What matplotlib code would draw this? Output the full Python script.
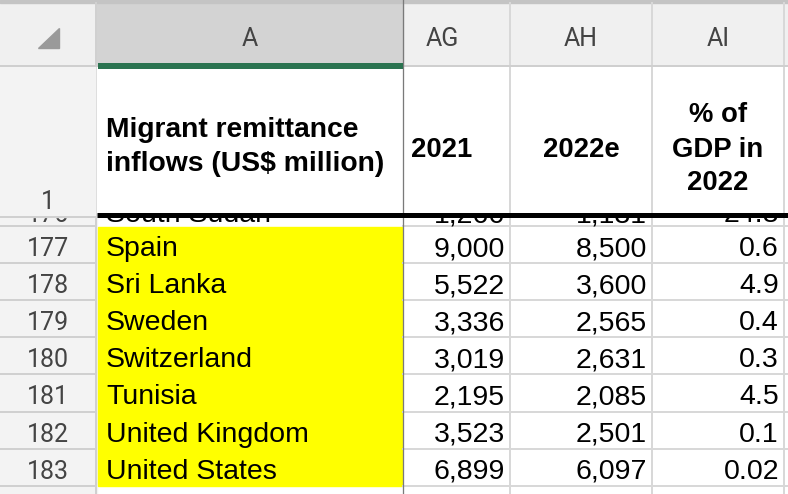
import matplotlib
matplotlib.use('Agg')
from matplotlib import pyplot as plt
from matplotlib.patches import Rectangle, Polygon

# spreadsheet content
col_letters = ['A', 'AG', 'AH', 'AI']
header_name = ['Migrant remittance', 'inflows (US$ million)']
header_2021 = '2021'
header_2022 = '2022e'
header_gdp = ['% of', 'GDP in', '2022']

cut_row = 176
cut_country = 'South Sudan'
cut_values = ['1,266', '1,131', '24.8']

row_nums = [177, 178, 179, 180, 181, 182, 183]
countries = ['Spain', 'Sri Lanka', 'Sweden', 'Switzerland', 'Tunisia',
             'United Kingdom', 'United States']
inflow_2021 = [9000, 5522, 3336, 3019, 2195, 3523, 6899]
inflow_2022e = [8500, 3600, 2565, 2631, 2085, 2501, 6097]
gdp_share_2022 = [0.6, 4.9, 0.4, 0.3, 4.5, 0.1, 0.02]

# layout in pixels
W, H = 788, 494
col_edges = [0, 97, 403, 510, 652, 784]
letter_x = [250, 442, 581, 718]
head_bottom = 66
row1_bottom = 213
row_top0 = 226
row_h = 37.1
grid = '#d8d8d8'
cell_font = 'Liberation Sans'
head_font = 'Roboto'

fig = plt.figure(figsize=(W / 100, H / 100), dpi=100)
ax = fig.add_axes([0, 0, 1, 1])
ax.set_xlim(0, W)
ax.set_ylim(H, 0)
ax.axis('off')


def px(n):
    return n * 0.72


# backgrounds
ax.add_patch(Rectangle((0, 0), W, head_bottom, color='#f0f0f0', zorder=0))
ax.add_patch(Rectangle((col_edges[1], 0), col_edges[2] - col_edges[1], head_bottom,
                       color='#d3d3d3', zorder=0))
ax.add_patch(Rectangle((0, head_bottom), col_edges[1], H - head_bottom, color='#f3f3f3', zorder=0))
ax.add_patch(Rectangle((0, 0), W, 3, color='#c4c4c4', zorder=1))
ax.add_patch(Polygon([[59, 28], [59, 48], [38, 48]], color='#9a9a9a', zorder=4))

# yellow country block
n = len(row_nums)
ax.add_patch(Rectangle((col_edges[1] + 1, row_top0 + 1), col_edges[2] - col_edges[1] - 2,
                       n * row_h - 1, color='#ffff00', zorder=1))

# grid lines
for x in col_edges[3:]:
    ax.plot([x, x], [3, H], color=grid, lw=px(2), zorder=1)
ax.plot([col_edges[1] - 1, col_edges[1] - 1], [3, H], color='#d0d0d0', lw=px(2), zorder=1)
for i in range(n + 1):
    y = row_top0 + i * row_h
    ax.plot([0, col_edges[1] - 1], [y, y], color='#d0d0d0', lw=px(2), zorder=1)
    ax.plot([col_edges[2], W], [y, y], color=grid, lw=px(2), zorder=1)

# cut-off row scrolled under the frozen header row
cut_base = 222
ax.text(48, cut_base, str(cut_row), family=head_font, fontsize=18, color='#444444',
        ha='center', va='baseline', zorder=2)
ax.text(106, cut_base, cut_country, family=cell_font, fontsize=20.5, ha='left',
        va='baseline', zorder=2)
for j, s in enumerate(cut_values):
    ax.text(col_edges[j + 3] - 5, cut_base, s, family=cell_font, fontsize=20.5, ha='right',
            va='baseline', zorder=2)

# frozen header row masks the cut row
ax.add_patch(Rectangle((0, head_bottom), col_edges[1] - 2, row1_bottom + 4 - head_bottom,
                       color='#f3f3f3', zorder=3))
ax.add_patch(Rectangle((col_edges[1], head_bottom), W - col_edges[1], row1_bottom - head_bottom,
                       color='white', zorder=3))
for x in col_edges[3:]:
    ax.plot([x, x], [head_bottom, row1_bottom], color=grid, lw=px(2), zorder=3)
ax.plot([0, col_edges[1] - 2], [row1_bottom + 4, row1_bottom + 4], color='#d0d0d0',
        lw=px(2), zorder=3)
ax.plot([0, W], [head_bottom, head_bottom], color='#cfcfcf', lw=px(2), zorder=3)
ax.plot([col_edges[2], col_edges[2]], [0, H], color='#7a7a7a', lw=px(1.3), zorder=4)
ax.plot([col_edges[1] + 1, col_edges[2]], [head_bottom, head_bottom], color='#2b7350',
        lw=px(6), solid_capstyle='butt', zorder=4)
ax.plot([col_edges[1], W], [row1_bottom + 2, row1_bottom + 2], color='black', lw=px(5),
        solid_capstyle='butt', zorder=4)

# column letters and row 1 number
for letter, x in zip(col_letters, letter_x):
    ax.text(x, 46, letter, family=head_font, fontsize=18, color='#444444', ha='center',
            va='baseline', zorder=5)
ax.text(48, 209, '1', family=head_font, fontsize=18, color='#444444', ha='center',
        va='baseline', zorder=5)

# header row texts
bold = dict(family=cell_font, fontweight='bold', color='black', va='baseline', zorder=5)
for line, base in zip(header_name, [137, 171]):
    ax.text(106, base, line, ha='left', fontsize=20.3, **bold)
ax.text(411, 157, header_2021, ha='left', fontsize=19.8, **bold)
ax.text((col_edges[3] + col_edges[4]) / 2, 157, header_2022, ha='center', fontsize=19.8, **bold)
for line, base in zip(header_gdp, [122, 157, 190]):
    ax.text((col_edges[4] + col_edges[5]) / 2, base, line, ha='center', fontsize=19.8, **bold)

# data rows
for i in range(n):
    base = row_top0 + i * row_h + 30
    ax.text(48, base, str(row_nums[i]), family=head_font, fontsize=18, color='#444444',
            ha='center', va='baseline', zorder=5)
    ax.text(106, base, countries[i], family=cell_font, fontsize=20.5, ha='left',
            va='baseline', zorder=5)
    vals = [f'{inflow_2021[i]:,}', f'{inflow_2022e[i]:,}', f'{gdp_share_2022[i]:g}']
    for j, s in enumerate(vals):
        ax.text(col_edges[j + 3] - 5, base, s, family=cell_font, fontsize=20.5, ha='right',
                va='baseline', zorder=5)

plt.savefig('out.png', dpi=100)
plt.close()
